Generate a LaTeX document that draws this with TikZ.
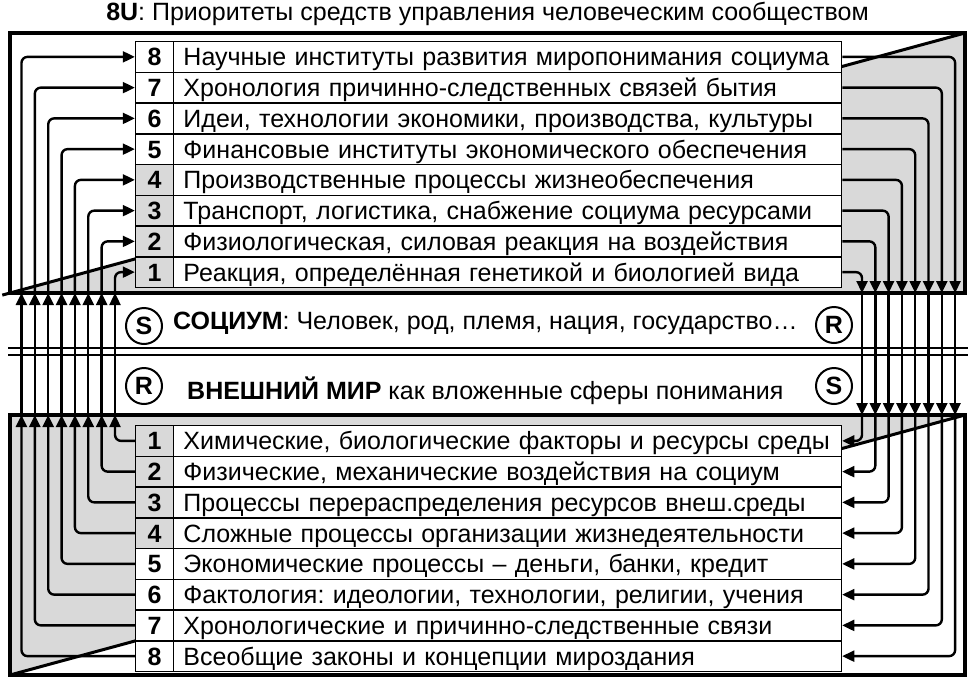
\documentclass[tikz,border=0pt]{standalone}
\usepackage{fontspec}
\setmainfont{Liberation Sans}
\frenchspacing
\usetikzlibrary{
	calc,
	arrows.meta,
	backgrounds,
	matrix,
	positioning,
}
\definecolor{cellgray}{gray}{0.85}
\newcommand\bigfont{\fontsize{25}{30}\selectfont}
\tikzset{
	frame/.style={draw, line width=4pt, inner sep=0pt, outer sep=0pt, minimum width=955pt, minimum height=260pt},
	link/.style={line width=2.4pt, rounded corners=6pt, -{Triangle[length=12pt,width=11pt]}},
	ring/.style={circle, draw, line width=2pt, minimum size=36pt, inner sep=0pt, font=\bigfont\bfseries},
	ranks/.style={
		matrix of nodes,
		line width=1.5pt,
		inner sep=0pt,
		row sep=-\pgflinewidth,
		column sep=-\pgflinewidth,
		anchor=north west,
		nodes={draw, fill=white, inner ysep=3pt, minimum height=30.75pt, text height=20pt, text depth=2pt, font=\bigfont},
		column 1/.style={nodes={minimum width=38pt, inner xsep=0pt, font=\bigfont\bfseries}},
		column 2/.style={nodes={text width=648pt, inner xsep=10pt, align=left}},
	},
}
\begin{document}
\begin{tikzpicture}[x=1pt, y=-1pt, font=\bigfont]
\useasboundingbox (0,0) rectangle (971,680);
\node[anchor=base, inner sep=0pt] (title) at (487.5,20) {\textbf{8U}: Приоритеты средств управления человеческим сообществом};
\node[frame] (upper) at (487.5,163) {};
\node[frame] (lower) at (487.5,545) {};
\begin{scope}[on background layer]
	\fill[cellgray] (upper.south west) -- (upper.north east) -- (upper.south east) -- cycle;
	\fill[cellgray] (lower.north west) -- (lower.north east) -- (lower.south west) -- cycle;
\end{scope}
\draw[line width=3pt, shorten <=-8pt] (upper.south west) -- (upper.north east);
\draw[line width=3pt] (lower.south west) -- (lower.north east);
\draw[double, line width=2.5pt, double distance=4.5pt] (8,351.5) -- (968,351.5);
\matrix (up) [ranks] at (134,40) {
	8 & Научные институты развития миропонимания социума \\
	7 & Хронология причинно-следственных связей бытия \\
	6 & Идеи, технологии экономики, производства, культуры \\
	5 & Финансовые институты экономического обеспечения \\
	|[fill=cellgray]| 4 & Производственные процессы жизнеобеспечения \\
	|[fill=cellgray]| 3 & Транспорт, логистика, снабжение социума ресурсами \\
	|[fill=cellgray]| 2 & Физиологическая, силовая реакция на воздействия \\
	|[fill=cellgray]| 1 & Реакция, определённая генетикой и биологией вида \\
};
\matrix (low) [ranks] at (134,424) {
	|[fill=cellgray]| 1 & Химические, биологические факторы и ресурсы среды \\
	|[fill=cellgray]| 2 & Физические, механические воздействия на социум \\
	|[fill=cellgray]| 3 & Процессы перераспределения ресурсов внеш.среды \\
	|[fill=cellgray]| 4 & Сложные процессы организации жизнедеятельности \\
	5 & Экономические процессы – деньги, банки, кредит \\
	6 & Фактология: идеологии, технологии, религии, учения \\
	7 & Хронологические и причинно-следственные связи \\
	8 & Всеобщие законы и концепции мироздания \\
};
\node[ring] (sUp) at (144,326) {S};
\node[anchor=base west, inner sep=0pt] (socium) at (173,329) {\textbf{СОЦИУМ}: Человек, род, племя, нация, государство…};
\node[ring] (rUp) at (834,325) {R};
\node[ring] (rLow) at (144,386) {R};
\node[anchor=base west, inner sep=0pt] (world) at (187,399) {\textbf{ВНЕШНИЙ МИР} как вложенные сферы понимания};
\node[ring] (sLow) at (834,386) {S};
\foreach \k in {1,...,8} {
	\pgfmathtruncatemacro\rk{9-\k}
	\coordinate (laneL\k) at ({115-13.36*(\k-1)},0);
	\coordinate (laneR\k) at ({862+13.3*(\k-1)},0);
	\draw[link] (low-\k-1.west) -| (laneL\k |- lower.north);
	\draw[link] (laneL\k |- lower.north) -- (laneL\k |- upper.south);
	\draw[link] (laneL\k |- upper.south) |- (up-\rk-1.west);
	\draw[link] (up-\rk-2.east) -| (laneR\k |- upper.south);
	\draw[link] (laneR\k |- upper.south) -- (laneR\k |- lower.north);
	\draw[link] (laneR\k |- lower.north) |- (low-\k-2.east);
}
\end{tikzpicture}
\end{document}
